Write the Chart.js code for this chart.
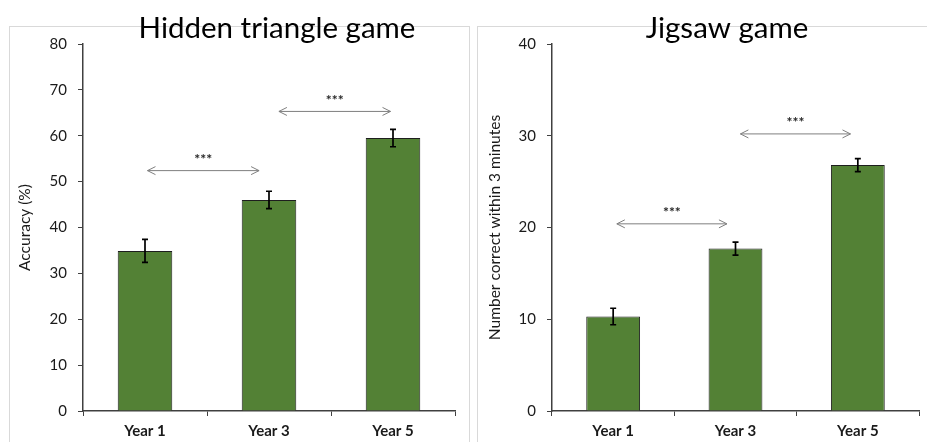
<!DOCTYPE html>
<html>
<head>
<meta charset="utf-8">
<script src="https://cdn.jsdelivr.net/npm/chart.js@4/dist/chart.umd.min.js"></script>
<style>
  html, body { margin: 0; padding: 0; background: #fff; }
  body { width: 927px; height: 442px; position: relative; overflow: hidden; }
  .panel { position: absolute; border: 1.5px solid #d9d9d9; box-sizing: border-box; }
  #p1 { left: 9px; top: 26px; width: 461px; height: 430px; }
  #p2 { left: 477px; top: 26px; width: 460px; height: 430px; }
  canvas { position: absolute; top: 0; }
  #c1 { left: 0; }
  #c2 { left: 465px; }
</style>
</head>
<body>
<div class="panel" id="p1"></div>
<div class="panel" id="p2"></div>
<canvas id="c1" width="465" height="442" style="width:465px;height:442px"></canvas>
<canvas id="c2" width="462" height="442" style="width:462px;height:442px"></canvas>
<script>
// ---- Data ----
const categories = ['Year 1', 'Year 3', 'Year 5'];

const triangleTitle = 'Hidden triangle game';
const triangleAxisTitle = 'Accuracy (%)';
const triangleValues = [34.9, 46.0, 59.5];
const triangleErrors = [2.5, 1.9, 1.9];
const triangleTicks = [0, 10, 20, 30, 40, 50, 60, 70, 80];
// significance arrows: [fromIndex, toIndex, yValue, label]
const triangleSig = [[0.02, 0.92, 52.4, '***'], [1.08, 1.98, 65.3, '***']];

const jigsawTitle = 'Jigsaw game';
const jigsawAxisTitle = 'Number correct within 3 minutes';
const jigsawValues = [10.3, 17.7, 26.8];
const jigsawErrors = [0.9, 0.7, 0.7];
const jigsawTicks = [0, 10, 20, 30, 40];
const jigsawSig = [[0.03, 0.93, 20.4, '***'], [1.04, 1.94, 30.2, '***']];

const FONT = 'Lato, "Liberation Sans", sans-serif';

const extrasPlugin = {
  id: 'extras',
  afterDatasetsDraw(chart, args, opts) {
    const ctx = chart.ctx;
    const xs = chart.scales.x, ys = chart.scales.y;
    ctx.save();
    // error bars
    ctx.strokeStyle = '#000';
    ctx.lineWidth = 1.7;
    opts.values.forEach((v, i) => {
      const x = xs.getPixelForValue(i);
      const yt = ys.getPixelForValue(v + opts.errors[i]);
      const yb = ys.getPixelForValue(v - opts.errors[i]);
      ctx.beginPath();
      ctx.moveTo(x, yt); ctx.lineTo(x, yb);
      ctx.moveTo(x - 3, yt); ctx.lineTo(x + 3, yt);
      ctx.moveTo(x - 3, yb); ctx.lineTo(x + 3, yb);
      ctx.stroke();
    });
    // significance arrows
    opts.sig.forEach(([a, b, yv, label]) => {
      const x1 = xs.getPixelForValue(a);
      const x2 = xs.getPixelForValue(b);
      const y = ys.getPixelForValue(yv);
      ctx.strokeStyle = '#7f7f7f';
      ctx.lineWidth = 1;
      ctx.beginPath();
      ctx.moveTo(x1, y); ctx.lineTo(x2, y);
      ctx.moveTo(x1 + 8, y - 4); ctx.lineTo(x1, y); ctx.lineTo(x1 + 8, y + 4);
      ctx.moveTo(x2 - 8, y - 4); ctx.lineTo(x2, y); ctx.lineTo(x2 - 8, y + 4);
      ctx.stroke();
      ctx.fillStyle = '#262626';
      ctx.font = 'bold 14px ' + FONT;
      ctx.textAlign = 'center';
      ctx.textBaseline = 'middle';
      ctx.fillText(label, (x1 + x2) / 2, y - 11);
    });
    // chart title
    ctx.fillStyle = '#000';
    ctx.font = '29.5px ' + FONT;
    ctx.textAlign = 'center';
    ctx.textBaseline = 'alphabetic';
    ctx.fillText(opts.title, opts.titleX, 38);
    ctx.restore();
  }
};

function makeChart(id, values, errors, ticks, sig, title, axisTitle, cfg) {
  const maxV = ticks[ticks.length - 1];
  return new Chart(document.getElementById(id), {
    type: 'bar',
    data: {
      labels: categories,
      datasets: [{
        data: values,
        backgroundColor: '#538135',
        borderColor: '#1e1e1e',
        borderWidth: 1,
        categoryPercentage: 1.0,
        barPercentage: 0.44
      }]
    },
    options: {
      responsive: false,
      animation: false,
      devicePixelRatio: 1,
      layout: { padding: { left: 0, right: cfg.padRight, top: 44, bottom: 0 } },
      plugins: {
        legend: { display: false },
        tooltip: { enabled: false },
        extras: { values, errors, sig, title, titleX: cfg.titleX }
      },
      scales: {
        x: {
          type: 'category',
          offset: true,
          grid: { offset: true, drawOnChartArea: false, tickLength: 5, color: '#404040', lineWidth: 1 },
          border: { display: true, color: '#404040', width: 1.5 },
          ticks: { color: '#1a1a1a', padding: 6, font: { family: FONT, size: 15, weight: 'bold' } },
          afterFit(s) { s.height = 31; }
        },
        y: {
          min: 0,
          max: maxV,
          afterBuildTicks(s) { s.ticks = ticks.map(v => ({ value: v })); },
          grid: { drawOnChartArea: false, tickLength: 5, color: '#404040', lineWidth: 1 },
          border: { display: true, color: '#404040', width: 1.5 },
          ticks: { color: '#1a1a1a', padding: 11, font: { family: FONT, size: 15 } },
          title: { display: true, text: axisTitle, color: '#1a1a1a', font: { family: FONT, size: 15.5 }, padding: { top: cfg.titlePad, bottom: 0 } },
          afterFit(s) { s.width = cfg.axisW; }
        }
      }
    },
    plugins: [extrasPlugin]
  });
}

makeChart('c1', triangleValues, triangleErrors, triangleTicks, triangleSig, triangleTitle, triangleAxisTitle,
  { padRight: 10, axisW: 83, titlePad: 16, titleX: 277 });
makeChart('c2', jigsawValues, jigsawErrors, jigsawTicks, jigsawSig, jigsawTitle, jigsawAxisTitle,
  { padRight: 8, axisW: 87, titlePad: 21, titleX: 262 });
</script>
</body>
</html>
